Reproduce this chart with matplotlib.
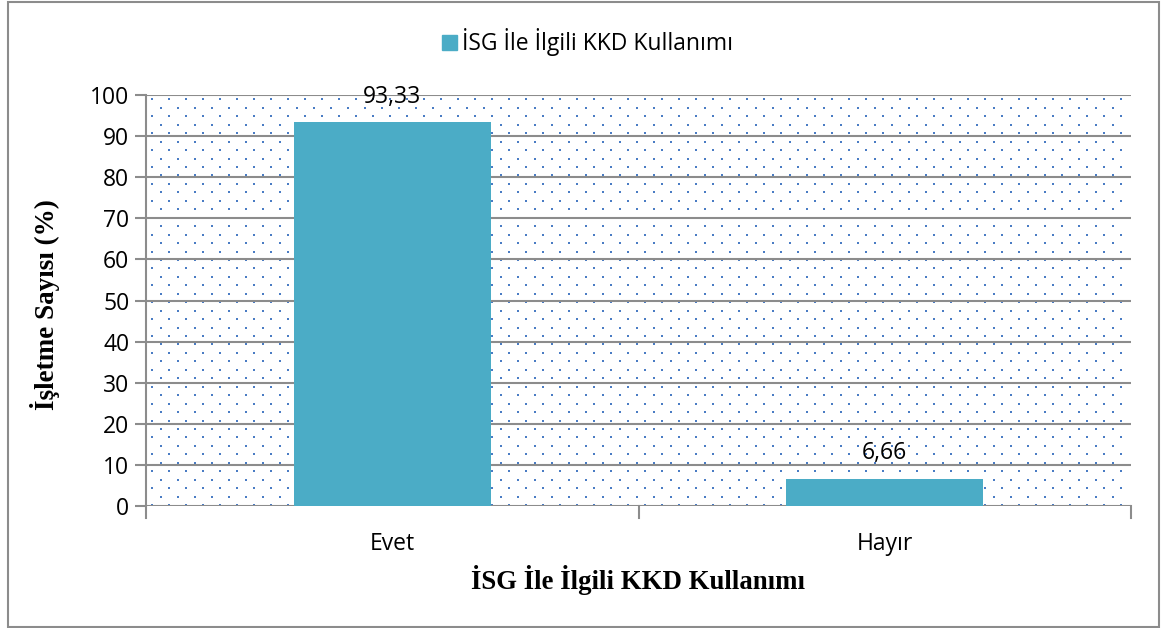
import numpy as np
import matplotlib.pyplot as plt
from matplotlib.patches import Rectangle

categories = ['Evet', 'Hayır']
values = [93.33, 6.66]
value_labels = ['93,33', '6,66']
series_name = 'İSG İle İlgili KKD Kullanımı'
yticks = [0, 10, 20, 30, 40, 50, 60, 70, 80, 90, 100]

bar_color = '#4bacc6'
grid_color = '#8c8c8c'
dot_color = '#4a7cc4'

W, H = 1161, 628
fig = plt.figure(figsize=(W / 100, H / 100), dpi=100)

# plot area in pixels: left 146, right 1131, top 95, bottom 506
L, R, T, B = 146, 1131, 95, 506
ax = fig.add_axes([L / W, 1 - B / H, (R - L) / W, (B - T) / H])

x = np.arange(len(categories))
ax.set_xlim(-0.5, len(categories) - 0.5)
ax.set_ylim(0, 100)

# dotted background pattern (staggered rows)
pw, ph = R - L, B - T
dx, dy = 17.0, 8.45
pts_x, pts_y = [], []
row = 0
yy = 1.0
while yy < ph:
    off = 6.0 if row % 2 == 0 else 6.0 + dx / 2
    xx = np.arange(off, pw - 2, dx)
    pts_x.extend(xx / pw)
    pts_y.extend([yy / ph] * len(xx))
    yy += dy
    row += 1
ax.scatter(pts_x, pts_y, s=4.5, marker='s', color=dot_color, linewidths=0,
           transform=ax.transAxes, zorder=0.5)

# horizontal gridlines
for t in yticks:
    ax.axhline(t, color=grid_color, lw=1.5, zorder=1)

bars = ax.bar(x, values, width=0.4, color=bar_color, zorder=2)

for xi, v, lab in zip(x, values, value_labels):
    ax.text(xi, v + 4.8, lab, ha='center', va='baseline', fontsize=16.5,
            family='Open Sans', zorder=3)

for s in ['top', 'right', 'bottom']:
    ax.spines[s].set_visible(False)
ax.spines['left'].set_color(grid_color)
ax.spines['left'].set_linewidth(1.5)

ax.set_yticks(yticks)
ax.set_yticklabels([str(t) for t in yticks], fontsize=16.5, family='Open Sans')
ax.tick_params(axis='y', length=8, width=1.5, color=grid_color, pad=4)
ax.set_xticks([])

# category ticks between groups
for b in [-0.5, 0.5, 1.5]:
    ax.plot([b, b], [0, -3], color=grid_color, lw=1.5, clip_on=False, zorder=1)
for xi, c in zip(x, categories):
    ax.text(xi, -6.3, c, ha='center', va='top', fontsize=16.5, family='Open Sans')

fig.text(638 / W, 1 - 580 / H, series_name, ha='center', va='center',
         fontsize=19.3, fontweight='bold', family='Liberation Serif')
fig.text(45 / W, 1 - 305 / H, 'İşletme Sayısı (%)', rotation=90, ha='center',
         va='center', fontsize=19.5, fontweight='bold', family='Liberation Serif')

# legend at top
fig.patches.append(Rectangle((442 / W, 1 - 50 / H), 15 / W, 15 / H,
                             transform=fig.transFigure, color=bar_color))
fig.text(462 / W, 1 - 42 / H, series_name, ha='left', va='center',
         fontsize=16.5, family='Open Sans')

# outer border
fig.patches.append(Rectangle((8 / W, 1 / H), 1151 / W, 625 / H, transform=fig.transFigure,
                             fill=False, edgecolor='#8c8c8c', lw=1.5))

fig.savefig('out.png', dpi=100)
